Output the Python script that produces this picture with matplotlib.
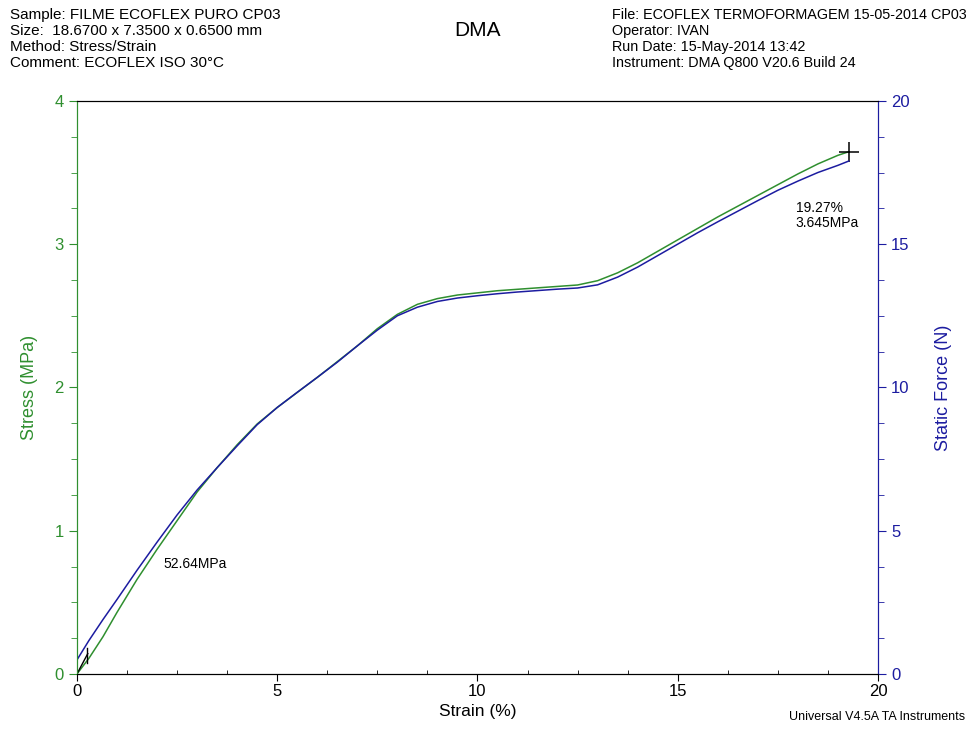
import matplotlib.pyplot as plt
from matplotlib.ticker import MultipleLocator

plt.rcParams['font.family'] = ['Liberation Sans', 'DejaVu Sans']

# ---- data ----
strain = [0.0, 0.3, 0.65, 1.0, 1.5, 2.0, 2.5, 3.0, 3.5, 4.0, 4.5, 5.0, 5.5,
          6.0, 6.5, 7.0, 7.5, 8.0, 8.5, 9.0, 9.5, 10.0, 10.5, 11.0, 11.5,
          12.0, 12.5, 13.0, 13.5, 14.0, 14.5, 15.0, 15.5, 16.0, 16.5, 17.0,
          17.5, 18.0, 18.5, 19.0, 19.27]
stress = [0.0, 0.11, 0.26, 0.43, 0.66, 0.87, 1.07, 1.27, 1.44, 1.6, 1.745,
          1.86, 1.965, 2.07, 2.18, 2.29, 2.41, 2.51, 2.58, 2.62, 2.645, 2.66,
          2.675, 2.685, 2.695, 2.705, 2.715, 2.745, 2.80, 2.87, 2.95, 3.03,
          3.11, 3.19, 3.265, 3.34, 3.415, 3.49, 3.56, 3.62, 3.645]
force = [0.49, 1.17, 1.9, 2.6, 3.62, 4.6, 5.55, 6.42, 7.2, 7.96, 8.7, 9.3,
         9.83, 10.35, 10.88, 11.45, 12.0, 12.5, 12.8, 13.0, 13.12, 13.2, 13.27,
         13.33, 13.38, 13.43, 13.47, 13.58, 13.85, 14.2, 14.6, 15.0, 15.4,
         15.78, 16.15, 16.52, 16.88, 17.2, 17.5, 17.75, 17.9]

modulus = 52.64          # MPa (per 100 % strain)
onset_strain = 0.27
end_strain = 19.27
end_stress = 3.645

header_left = ["Sample: FILME ECOFLEX PURO CP03",
               "Size:  18.6700 x 7.3500 x 0.6500 mm",
               "Method: Stress/Strain",
               "Comment: ECOFLEX ISO 30\u00b0C"]
header_right = ["File: ECOFLEX TERMOFORMAGEM 15-05-2014 CP03",
                "Operator: IVAN",
                "Run Date: 15-May-2014 13:42",
                "Instrument: DMA Q800 V20.6 Build 24"]

GREEN = '#2f8f2f'
BLUE = '#1c1ca0'

fig = plt.figure(figsize=(9.74, 7.31), dpi=100)
ax = fig.add_axes([0.079, 0.078, 0.8224, 0.784])
ax2 = ax.twinx()

ax.plot(strain, stress, color=GREEN, lw=1.1)
ax2.plot(strain, force, color=BLUE, lw=1.1)

# modulus tangent and onset marker
ax.plot([0, onset_strain], [0, modulus / 100 * onset_strain], color='black', lw=1)
ax.plot([onset_strain - 0.03, onset_strain - 0.03], [0.08, 0.18], color='black', lw=1)
# end point cross
ax.plot([end_strain], [end_stress], marker='+', ms=14, mew=1.1, color='black')

ax.text(2.15, 0.77, "52.64MPa", fontsize=10, va='center', ha='left')
ax.text(17.95, 3.2, "19.27%\n3.645MPa", fontsize=10, va='center', ha='left',
        linespacing=1.05)

ax.set_xlim(0, 20)
ax.set_ylim(0, 4)
ax2.set_ylim(0, 20)

ax.xaxis.set_major_locator(MultipleLocator(5))
ax.xaxis.set_minor_locator(MultipleLocator(1.25))
ax.yaxis.set_major_locator(MultipleLocator(1))
ax.yaxis.set_minor_locator(MultipleLocator(0.25))
ax2.yaxis.set_major_locator(MultipleLocator(5))
ax2.yaxis.set_minor_locator(MultipleLocator(1.25))

ax.tick_params(axis='x', which='major', length=5, direction='out', labelsize=12, pad=2)
ax.tick_params(axis='x', which='minor', length=3, direction='in')
ax.tick_params(axis='y', which='major', length=6, colors=GREEN, labelsize=12)
ax.tick_params(axis='y', which='minor', length=4, colors=GREEN)
ax2.tick_params(axis='y', which='major', length=6, colors=BLUE, labelsize=12)
ax2.tick_params(axis='y', which='minor', length=4, colors=BLUE)

for a in (ax, ax2):
    a.spines['left'].set_color(GREEN)
    a.spines['right'].set_color(BLUE)
    a.spines['top'].set_color('black')
    a.spines['bottom'].set_color('black')

ax.set_xlabel("Strain (%)", fontsize=12.5, labelpad=4)
ax.set_ylabel("Stress (MPa)", fontsize=13, color=GREEN, labelpad=12)
ax2.set_ylabel("Static Force (N)", fontsize=13, color=BLUE, labelpad=18)

# header block (the File line runs past the right edge, as in the original)
for i, line in enumerate(header_left):
    fig.text(10 / 974, 1 - (15 + 16 * i) / 731, line, fontsize=11, va='center', ha='left')
for i, line in enumerate(header_right):
    fig.text(612 / 974, 1 - (15 + 16 * i) / 731, line, fontsize=10.4, va='center', ha='left')
fig.text(478 / 974, 1 - 30 / 731, "DMA", fontsize=15, va='center', ha='center')
fig.text(965 / 974, 1 - 717 / 731, "Universal V4.5A TA Instruments", fontsize=9,
         va='center', ha='right')

fig.savefig("out.png", dpi=100)
